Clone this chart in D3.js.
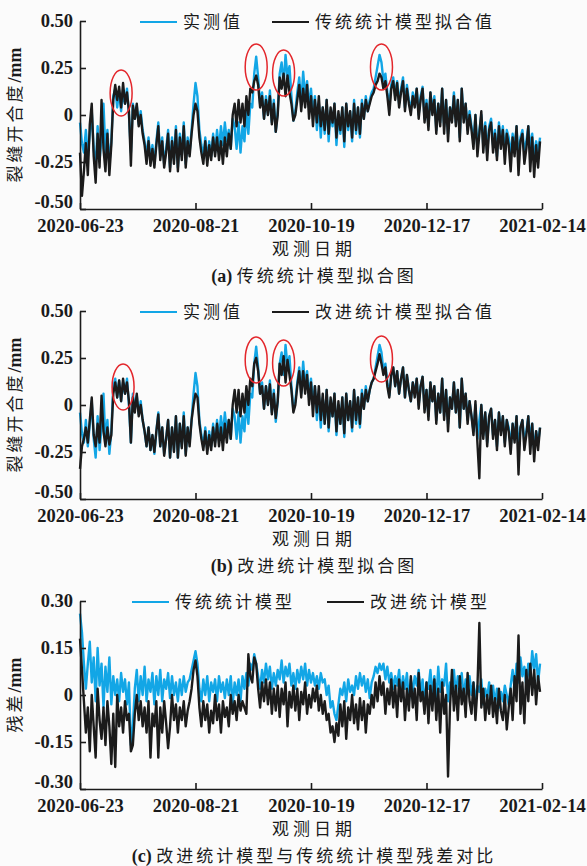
<!DOCTYPE html>
<html>
<head>
<meta charset="utf-8">
<script src="https://cdn.jsdelivr.net/npm/d3@7"></script>
<style>
  body { margin: 0; background: #fbfbfb; }
  svg { display: block; }
  .tick text { font-family: "Liberation Serif", "Times New Roman", serif; font-weight: bold; font-size: 18.5px; fill: #1a1a1a; }
  .cjk { font-family: "Noto Sans CJK SC", sans-serif; }
  .serif { font-family: "Liberation Serif", "Times New Roman", serif; font-weight: bold; }
</style>
</head>
<body>
<div id="chart"></div>
<script>
// daily values, 2020-06-23 .. 2021-02-13 (236 days), mm
const startDate = new Date(2020, 5, 23);
const endDate = new Date(2021, 1, 14);
const dateTicks = [new Date(2020, 5, 23), new Date(2020, 7, 21), new Date(2020, 9, 19), new Date(2020, 11, 17), new Date(2021, 1, 14)];

// 实测值
const measured = [
  -0.04, -0.15, -0.20, -0.08, -0.22, -0.10, 0.02, -0.18, -0.28, -0.06,
  -0.24, -0.12, 0.06, -0.20, -0.08, -0.26, -0.14, 0.10, 0.14, 0.04,
  0.13, 0.02, 0.12, 0.06, 0.14, 0.00, -0.20, 0.06, -0.02, 0.05,
  -0.05, 0.02, -0.08, -0.14, -0.22, -0.12, -0.24, -0.16, -0.26, -0.14,
  -0.04, -0.22, -0.12, -0.26, -0.18, -0.08, -0.28, -0.12, -0.24, -0.06,
  -0.28, -0.10, -0.22, -0.04, -0.26, -0.12, -0.20, -0.08, 0.06, 0.17,
  0.10, -0.08, -0.16, -0.22, -0.12, -0.24, -0.14, -0.22, -0.10, -0.20,
  -0.08, -0.18, -0.06, -0.16, -0.04, -0.14, -0.08, -0.18, -0.02, -0.06,
  -0.18, -0.04, -0.20, -0.06, -0.14, 0.02, -0.10, 0.06, 0.04, 0.22,
  0.31, 0.20, 0.06, 0.12, -0.02, 0.10, 0.00, 0.13, -0.04, 0.08,
  -0.09, 0.02, 0.22, 0.28, 0.16, 0.32, 0.20, 0.26, 0.10, -0.03,
  0.02, 0.12, 0.20, 0.06, 0.23, 0.10, 0.18, 0.04, 0.14, 0.00,
  0.10, -0.08, 0.06, -0.12, 0.04, -0.10, 0.08, -0.14, 0.02, -0.06,
  0.06, -0.16, 0.00, -0.10, 0.04, -0.17, 0.06, -0.08, 0.02, -0.14,
  0.08, -0.10, 0.04, -0.12, 0.08, -0.02, 0.10, 0.02, 0.08, 0.12,
  0.14, 0.20, 0.26, 0.32, 0.28, 0.18, 0.22, 0.12, 0.05, 0.16,
  0.20, 0.10, 0.18, 0.06, 0.14, 0.20, 0.04, 0.16, 0.08, 0.02,
  0.12, 0.06, 0.14, 0.00, 0.10, 0.15, -0.02, 0.08, -0.06, 0.12,
  0.02, 0.10, -0.08, 0.06, -0.04, 0.14, -0.06, 0.08, -0.10, 0.04,
  -0.02, 0.12, -0.04, 0.08, -0.12, 0.14, -0.02, 0.06, -0.08, 0.02,
  -0.06, -0.14, 0.00, -0.18, -0.08, 0.00, -0.16, -0.04, -0.20, -0.06,
  -0.02, -0.16, -0.08, -0.22, -0.04, -0.14, -0.06, -0.20, -0.08, -0.12,
  -0.22, -0.10, -0.18, -0.06, -0.24, -0.12, -0.08, -0.20, -0.14, -0.06,
  -0.18, -0.10, -0.24, -0.14, -0.20, -0.12
];

// 传统统计模型拟合值
const fitTraditional = [
  -0.20, -0.43, -0.30, -0.15, -0.32, -0.05, 0.06, -0.22, -0.36, -0.10,
  -0.28, 0.08, -0.18, -0.30, -0.10, -0.32, -0.16, 0.08, 0.16, 0.08,
  0.15, 0.04, 0.17, 0.06, 0.12, 0.02, -0.27, 0.05, -0.02, 0.06,
  -0.06, 0.00, -0.10, -0.16, -0.26, -0.14, -0.27, -0.18, -0.28, -0.16,
  -0.06, -0.24, -0.14, -0.28, -0.20, -0.10, -0.30, -0.14, -0.26, -0.08,
  -0.30, -0.12, -0.24, -0.06, -0.28, -0.14, -0.22, -0.10, 0.00, 0.06,
  0.02, -0.12, -0.20, -0.26, -0.14, -0.27, -0.16, -0.24, -0.12, -0.22,
  -0.12, -0.24, -0.14, -0.26, -0.12, -0.22, -0.10, -0.18, 0.00, 0.06,
  -0.06, 0.08, -0.04, 0.06, -0.06, 0.10, 0.00, 0.14, 0.12, 0.18,
  0.21, 0.16, 0.04, 0.10, -0.02, 0.08, 0.00, 0.10, -0.05, 0.06,
  -0.09, 0.00, 0.20, 0.14, 0.22, 0.10, 0.21, 0.12, 0.06, -0.03,
  0.00, 0.08, 0.16, 0.02, 0.14, 0.04, 0.16, -0.02, 0.10, -0.06,
  0.08, -0.04, 0.10, -0.06, 0.04, -0.08, 0.08, -0.10, 0.04, -0.04,
  0.06, -0.12, 0.02, -0.08, 0.04, -0.14, 0.06, -0.06, 0.02, -0.12,
  0.06, -0.08, 0.04, -0.10, 0.06, -0.02, 0.08, 0.02, 0.06, 0.10,
  0.12, 0.16, 0.18, 0.22, 0.20, 0.14, 0.18, 0.10, 0.00, 0.14,
  0.18, 0.08, 0.17, 0.04, 0.12, 0.18, 0.02, 0.14, 0.06, 0.00,
  0.10, 0.04, 0.14, -0.02, 0.08, 0.14, -0.04, 0.06, -0.08, 0.12,
  0.00, 0.08, -0.10, 0.06, -0.06, 0.14, -0.10, 0.08, -0.14, 0.04,
  -0.04, 0.10, -0.06, 0.08, -0.14, 0.14, -0.04, 0.06, -0.10, 0.00,
  -0.08, -0.18, 0.00, -0.22, -0.10, 0.02, -0.20, -0.06, -0.24, -0.08,
  -0.04, -0.20, -0.10, -0.24, -0.06, -0.18, -0.08, -0.26, -0.10, -0.16,
  -0.30, -0.12, -0.22, -0.06, -0.32, -0.14, -0.10, -0.26, -0.18, -0.06,
  -0.30, -0.12, -0.33, -0.16, -0.28, -0.14
];

// 改进统计模型拟合值
const fitImproved = [
  -0.34, -0.22, -0.18, -0.12, -0.20, -0.08, 0.04, -0.16, -0.22, -0.10,
  -0.20, 0.05, -0.14, -0.22, -0.12, -0.21, -0.16, 0.06, 0.12, 0.04,
  0.13, 0.02, 0.14, 0.06, 0.12, 0.02, -0.20, 0.04, -0.04, 0.06,
  -0.06, 0.00, -0.08, -0.14, -0.22, -0.12, -0.24, -0.16, -0.25, -0.14,
  -0.05, -0.22, -0.12, -0.27, -0.18, -0.08, -0.28, -0.12, -0.25, -0.06,
  -0.28, -0.10, -0.23, -0.06, -0.27, -0.12, -0.22, -0.08, 0.00, 0.06,
  0.04, -0.10, -0.18, -0.24, -0.14, -0.26, -0.16, -0.24, -0.12, -0.22,
  -0.10, -0.22, -0.12, -0.24, -0.10, -0.20, -0.08, -0.18, 0.00, 0.08,
  -0.04, 0.08, -0.06, 0.06, -0.04, 0.10, 0.00, 0.14, 0.10, 0.22,
  0.25, 0.18, 0.06, 0.10, -0.02, 0.10, 0.00, 0.11, -0.05, 0.06,
  -0.07, 0.02, 0.22, 0.16, 0.26, 0.12, 0.24, 0.16, 0.08, -0.04,
  0.00, 0.10, 0.18, 0.04, 0.18, 0.06, 0.16, 0.00, 0.12, -0.06,
  0.10, -0.04, 0.10, -0.08, 0.06, -0.10, 0.08, -0.12, 0.04, -0.06,
  0.06, -0.14, 0.02, -0.10, 0.04, -0.15, 0.06, -0.08, 0.02, -0.12,
  0.08, -0.08, 0.04, -0.10, 0.06, -0.02, 0.08, 0.02, 0.08, 0.12,
  0.14, 0.18, 0.22, 0.27, 0.22, 0.16, 0.20, 0.10, 0.04, 0.16,
  0.20, 0.10, 0.18, 0.06, 0.14, 0.20, 0.04, 0.16, 0.08, 0.02,
  0.12, 0.04, 0.14, -0.02, 0.10, 0.15, -0.04, 0.08, -0.08, 0.12,
  0.02, 0.10, -0.10, 0.06, -0.04, 0.14, -0.08, 0.08, -0.14, 0.04,
  -0.02, 0.12, -0.04, 0.08, -0.12, 0.14, -0.02, 0.06, -0.10, 0.02,
  -0.06, -0.16, 0.02, -0.20, -0.39, 0.00, -0.18, -0.04, -0.22, -0.06,
  -0.02, -0.18, -0.08, -0.24, -0.04, -0.16, -0.06, -0.22, -0.08, -0.14,
  -0.26, -0.10, -0.20, -0.06, -0.37, -0.12, -0.08, -0.24, -0.16, -0.06,
  -0.26, -0.10, -0.30, -0.14, -0.24, -0.12
];

// 残差: 传统统计模型
const residualTraditional = [
  0.26, 0.20, 0.10, 0.02, 0.10, 0.17, 0.04, 0.12, -0.02, 0.15,
  0.03, 0.10, -0.04, 0.09, 0.01, 0.12, -0.03, 0.06, 0.00, 0.05,
  -0.02, 0.07, 0.01, 0.05, -0.03, 0.04, -0.16, -0.10, 0.02, 0.08,
  -0.02, 0.06, 0.00, 0.09, -0.02, 0.05, 0.01, 0.07, -0.03, 0.06,
  0.00, 0.08, -0.02, 0.05, 0.02, 0.07, -0.01, 0.06, 0.00, 0.04,
  -0.02, 0.05, 0.00, 0.06, 0.01, 0.04, 0.05, 0.08, 0.11, 0.14,
  0.10, 0.02, -0.02, 0.05, 0.00, 0.06, -0.02, 0.04, 0.01, 0.05,
  -0.02, 0.06, 0.01, 0.04, -0.01, 0.05, 0.00, 0.06, -0.03, 0.04,
  0.00, 0.05, -0.02, 0.06, 0.02, 0.07, 0.03, 0.10, 0.08, 0.13,
  0.10, 0.06, 0.02, 0.08, 0.04, 0.10, 0.05, 0.09, 0.02, 0.07,
  0.03, 0.08, 0.05, 0.11, 0.04, 0.09, 0.06, 0.10, 0.03, 0.07,
  0.02, 0.08, 0.04, 0.09, 0.05, 0.10, 0.03, 0.08, 0.04, 0.07,
  0.03, 0.06, 0.02, 0.07, 0.04, 0.05, 0.00, 0.03, -0.04, -0.02,
  -0.06, -0.08, -0.03, 0.02, 0.00, 0.04, -0.02, 0.05, 0.01, 0.03,
  0.00, 0.06, 0.02, 0.07, 0.03, 0.06, 0.01, 0.05, -0.01, 0.04,
  0.06, 0.09, 0.07, 0.10, 0.08, 0.10, 0.05, 0.09, 0.04, 0.07,
  0.02, 0.06, 0.03, 0.08, 0.00, 0.06, 0.02, 0.07, -0.02, 0.05,
  0.01, 0.06, 0.03, 0.08, 0.00, 0.05, -0.03, 0.04, 0.02, 0.08,
  0.00, 0.06, -0.02, 0.09, 0.01, 0.05, 0.03, 0.10, -0.02, 0.04,
  0.02, 0.08, 0.00, 0.06, 0.03, 0.07, -0.01, 0.05, 0.02, 0.06,
  0.00, 0.04, -0.02, 0.03, 0.01, 0.05, -0.03, 0.02, -0.01, 0.04,
  -0.02, 0.03, -0.03, 0.02, -0.04, 0.01, -0.02, 0.03, 0.00, -0.03,
  0.03, 0.08, 0.02, 0.10, 0.04, 0.12, 0.06, 0.09, 0.03, 0.10,
  0.05, 0.14, 0.08, 0.13, 0.04, 0.10
];

// 残差: 改进统计模型
const residualImproved = [
  0.18, 0.08, -0.02, -0.12, -0.04, -0.18, 0.00, -0.10, -0.20, 0.02,
  -0.08, -0.14, -0.04, -0.16, -0.02, -0.10, -0.22, -0.06, -0.23, 0.00,
  -0.10, -0.04, -0.12, -0.02, -0.08, -0.06, -0.18, -0.16, -0.06, 0.00,
  -0.08, -0.02, -0.10, -0.04, -0.12, -0.02, -0.20, -0.06, -0.10, -0.02,
  -0.20, -0.04, -0.12, -0.02, -0.09, -0.17, -0.10, 0.00, -0.08, -0.03,
  -0.12, -0.04, -0.08, -0.02, -0.10, -0.05, -0.02, 0.02, 0.08, 0.11,
  0.06, -0.04, -0.10, -0.02, -0.08, -0.03, -0.12, -0.05, -0.09, 0.00,
  -0.08, -0.03, -0.12, -0.02, -0.07, -0.04, -0.10, 0.00, -0.06, -0.02,
  -0.08, 0.00, -0.05, -0.02, -0.04, -0.06, 0.13, 0.06, 0.04, 0.12,
  0.10, 0.02, -0.04, 0.04, -0.02, 0.05, -0.03, 0.04, -0.06, 0.02,
  -0.05, 0.03, -0.07, 0.02, -0.03, 0.04, -0.10, 0.01, -0.04, 0.03,
  -0.05, 0.02, -0.08, 0.01, -0.03, 0.04, -0.06, 0.00, -0.04, 0.02,
  -0.02, 0.03, -0.05, 0.00, -0.06, -0.02, -0.08, -0.06, -0.12, -0.10,
  -0.15, -0.09, -0.13, -0.03, -0.10, -0.02, -0.14, -0.04, -0.08, 0.00,
  -0.09, -0.03, -0.11, -0.01, -0.08, -0.02, -0.12, -0.03, -0.06, 0.00,
  -0.04, 0.04, -0.02, 0.06, 0.00, 0.04, -0.06, 0.02, -0.03, 0.05,
  -0.04, 0.03, -0.07, 0.05, -0.02, 0.04, -0.08, 0.02, -0.05, 0.06,
  -0.04, 0.02, -0.08, 0.07, -0.02, 0.01, -0.06, 0.04, -0.09, 0.03,
  -0.05, 0.05, -0.08, 0.02, -0.12, 0.04, -0.06, 0.00, -0.26, -0.04,
  0.08, -0.05, 0.03, -0.08, 0.06, -0.03, 0.02, -0.07, 0.07, -0.02,
  -0.06, 0.04, -0.08, 0.02, 0.23, -0.04, 0.02, -0.08, 0.00, -0.06,
  0.03, -0.07, -0.01, -0.09, 0.02, -0.05, -0.08, 0.00, -0.11, -0.04,
  0.02, -0.08, 0.06, -0.02, 0.19, -0.06, 0.04, -0.09, 0.08, -0.02,
  0.10, 0.00, 0.08, -0.03, 0.06, 0.01
];

// red ellipse annotations (centre date, centre value)
const ringDatesA = [new Date(2020, 6, 14), new Date(2020, 8, 21), new Date(2020, 9, 5), new Date(2020, 10, 24)];
const ringValuesA = [0.117, 0.255, 0.223, 0.255];
const ringDatesB = [new Date(2020, 6, 15), new Date(2020, 8, 21), new Date(2020, 9, 5), new Date(2020, 10, 24)];
const ringValuesB = [0.096, 0.24, 0.223, 0.245];

const fitTicks = [-0.5, -0.25, 0, 0.25, 0.5];
const fitTickLabels = ["-0.50", "-0.25", "0", "0.25", "0.50"];
const resTicks = [-0.3, -0.15, 0, 0.15, 0.3];
const resTickLabels = ["-0.30", "-0.15", "0", "0.15", "0.30"];

const BLUE = "#12a6e6";
const BLACK = "#1b1b1b";
const RED = "#e3262b";

const dates = measured.map((d, i) => d3.timeDay.offset(startDate, i));

const svg = d3.select("#chart").append("svg")
    .attr("width", 587)
    .attr("height", 866);

const x = d3.scaleTime().domain([startDate, endDate]).range([80, 542]);

const panels = [
    {
        off: 0, domain: [-0.5, 0.5], ticks: fitTicks, labels: fitTickLabels,
        ylabel: "裂缝开合度", series: [measured, fitTraditional],
        legend: [{ x: 140, text: "实测值" }, { x: 272, text: "传统统计模型拟合值" }],
        caption: "传统统计模型拟合图", tag: "(a)", rings: [ringDatesA, ringValuesA]
    },
    {
        off: 290, domain: [-0.5, 0.5], ticks: fitTicks, labels: fitTickLabels,
        ylabel: "裂缝开合度", series: [measured, fitImproved],
        legend: [{ x: 140, text: "实测值" }, { x: 272, text: "改进统计模型拟合值" }],
        caption: "改进统计模型拟合图", tag: "(b)", rings: [ringDatesB, ringValuesB]
    },
    {
        off: 580, domain: [-0.3, 0.3], ticks: resTicks, labels: resTickLabels,
        ylabel: "残差", series: [residualTraditional, residualImproved],
        legend: [{ x: 132, text: "传统统计模型" }, { x: 327, text: "改进统计模型" }],
        caption: "改进统计模型与传统统计模型残差对比", tag: "(c)", rings: null
    }
];

panels.forEach(p => {
    const top = p.off + 21, bottom = p.off + 209;
    const y = d3.scaleLinear().domain(p.domain).range([bottom, top]);
    const g = svg.append("g");

    // lines: blue first, black on top
    const line = d3.line()
        .x((d, i) => x(dates[i]))
        .y(d => y(d));
    [BLUE, BLACK].forEach((c, k) => {
        g.append("path")
            .datum(p.series[k])
            .attr("fill", "none")
            .attr("stroke", c)
            .attr("stroke-width", 2.4)
            .attr("stroke-linejoin", "round")
            .attr("d", line);
    });

    // axes (ticks pointing inward)
    const xAxis = g.append("g")
        .attr("transform", `translate(0,${bottom})`)
        .call(d3.axisBottom(x).tickValues(dateTicks).tickFormat(d3.timeFormat("%Y-%m-%d"))
            .tickSize(-6).tickSizeOuter(0).tickPadding(10));
    const yAxis = g.append("g")
        .attr("transform", "translate(80,0)")
        .call(d3.axisLeft(y).tickValues(p.ticks).tickFormat((d, i) => p.labels[i])
            .tickSize(-6).tickSizeOuter(0).tickPadding(7));
    [xAxis, yAxis].forEach(a => {
        a.select(".domain").attr("stroke", BLACK).attr("stroke-width", 1.6);
        a.selectAll(".tick line").attr("stroke", BLACK).attr("stroke-width", 1.6);
        a.attr("font-size", null).attr("font-family", null);
    });
    // lowest y label sits a little above the x axis, as in the reference
    yAxis.selectAll(".tick text").filter((d, i) => i === 0).attr("y", -7);

    // legend
    p.legend.forEach((l, k) => {
        const ly = p.off + 22;
        g.append("line")
            .attr("x1", l.x).attr("x2", l.x + 37)
            .attr("y1", ly).attr("y2", ly)
            .attr("stroke", k === 0 ? BLUE : BLACK)
            .attr("stroke-width", 1.8);
        g.append("text")
            .attr("class", "cjk")
            .attr("x", l.x + 43).attr("y", ly + 6)
            .attr("font-size", 17)
            .attr("letter-spacing", 3)
            .attr("fill", BLACK)
            .text(l.text);
    });

    // y label
    const yl = g.append("text")
        .attr("transform", `translate(21,${p.off + 115}) rotate(-90)`)
        .attr("text-anchor", "middle")
        .attr("fill", BLACK)
        .attr("font-size", 17);
    yl.append("tspan").attr("class", "cjk").attr("letter-spacing", 3).text(p.ylabel);
    yl.append("tspan").attr("class", "serif").attr("font-size", 18).text("/mm");

    // x label
    g.append("text")
        .attr("class", "cjk")
        .attr("x", 314).attr("y", p.off + 255)
        .attr("text-anchor", "middle")
        .attr("font-size", 17)
        .attr("letter-spacing", 4)
        .attr("fill", BLACK)
        .text("观测日期");

    // caption
    const cap = g.append("text")
        .attr("x", 314).attr("y", p.off + 282)
        .attr("text-anchor", "middle")
        .attr("font-size", 17)
        .attr("fill", BLACK);
    cap.append("tspan").attr("class", "serif").attr("font-weight", "normal").attr("font-size", 18).text(p.tag + " ");
    cap.append("tspan").attr("class", "cjk").attr("letter-spacing", 3).text(p.caption);

    // red rings
    if (p.rings) {
        g.selectAll(".ring")
            .data(p.rings[0])
            .enter()
            .append("ellipse")
            .attr("cx", d => x(d))
            .attr("cy", (d, i) => y(p.rings[1][i]))
            .attr("rx", 11)
            .attr("ry", 23)
            .attr("fill", "none")
            .attr("stroke", RED)
            .attr("stroke-width", 1.5);
    }
});
</script>
</body>
</html>
